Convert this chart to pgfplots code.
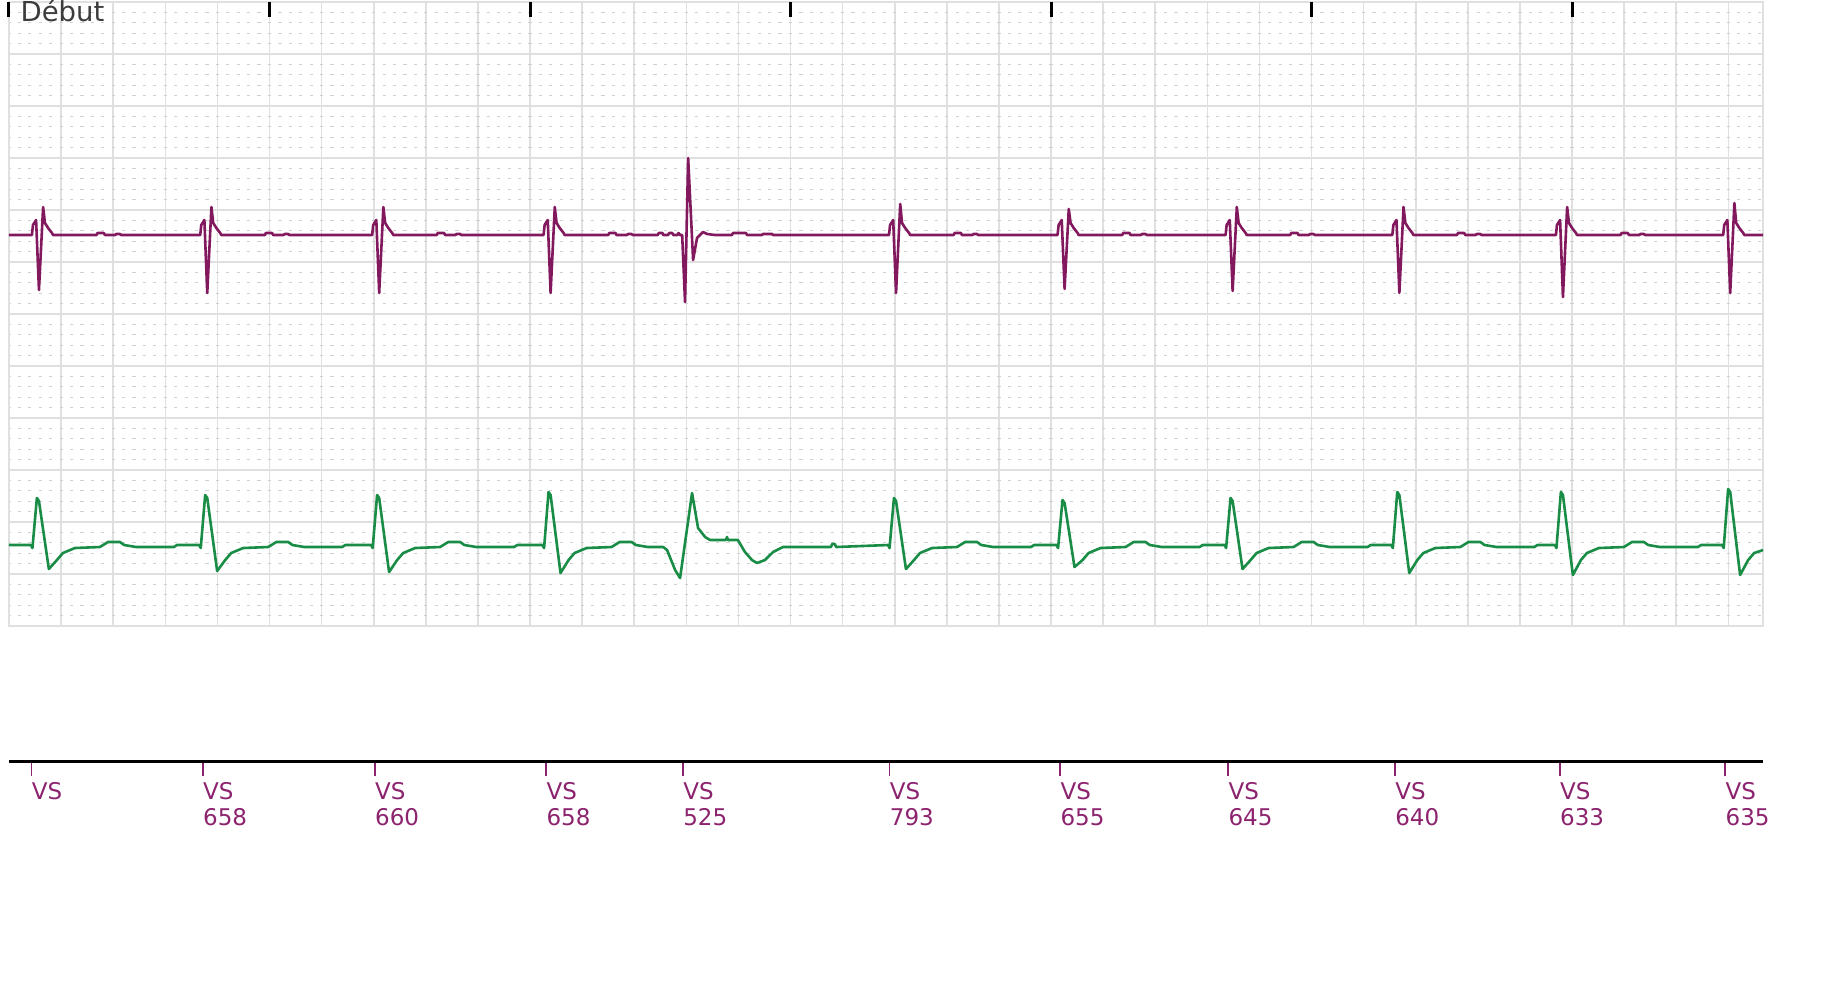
\documentclass[border=0pt]{standalone}
\usepackage{fontspec}
\setmainfont{DejaVu Sans}
\usepackage{pgfplots}
\pgfplotsset{compat=1.18}

\definecolor{ecgpurple}{RGB}{130,25,94}
\definecolor{ecggreen}{RGB}{25,140,70}
\definecolor{vspurple}{RGB}{140,35,110}
\definecolor{gridmajor}{RGB}{224,224,224}
\definecolor{gridminor}{RGB}{208,208,208}

% x in ms from the left edge of the strip, y in pixel rows from the top of the image
\begin{document}
\begin{tikzpicture}
\path[use as bounding box] (0pt,0pt) rectangle (912pt,-503.5pt);

\begin{axis}[
  name=ecg,
  at={(4.5pt,-1pt)}, anchor=north west,
  width=877pt, height=312pt, scale only axis,
  xmin=0, xmax=6733, ymin=2, ymax=626, y dir=reverse,
  axis line style={draw=gridmajor, line width=0.8pt},
  xtick={0,200,...,6600}, xticklabels={},
  ytick={2,54,...,626}, yticklabels={},
  minor y tick num=4,
  major tick length=0pt, minor tick length=0pt,
  xmajorgrids, ymajorgrids, yminorgrids,
  major grid style={draw=gridmajor, line width=0.8pt},
  minor grid style={draw=gridminor, line width=0.5pt, dash pattern=on 1.6pt off 3.61pt, dash phase=0.8pt},
  xtick pos=right,
  extra x ticks={0,1000,2000,3000,4000,5000,6000},
  extra x tick labels={},
  extra x tick style={grid=none, major tick length=7.5pt, tick align=inside,
    tick style={draw=black, line width=1.5pt}},
  clip=false,
]
% oreillette / marqueur (violet)
\addplot[ecgpurple, line width=1.3pt, line join=round] coordinates {
(0,235) (88,235) (92,225) (104,220) (115,290) (131,207) (138,223) (150,228) (165,233) (169,235)
(336,235) (340,233) (364,233) (368,235) (408,235) (412,234) (426,234) (430,235)
(734,235) (738,225) (750,220) (761,293) (777,207) (784,223) (796,228) (811,233) (815,235)
(982,235) (986,233) (1010,233) (1014,235) (1054,235) (1058,234) (1072,234) (1076,235)
(1394,235) (1398,225) (1410,220) (1421,293) (1437,207) (1444,223) (1456,228) (1471,233) (1475,235)
(1642,235) (1646,233) (1670,233) (1674,235) (1714,235) (1718,234) (1732,234) (1736,235)
(2052,235) (2056,225) (2068,220) (2079,293) (2095,207) (2102,223) (2114,228) (2129,233) (2133,235)
(2300,235) (2304,233) (2328,233) (2332,235) (2372,235) (2376,234) (2390,234) (2394,235)
(2490,235) (2494,233) (2508,233) (2512,235) (2530,235) (2534,233) (2546,233) (2550,235)
(2566,235) (2570,233) (2576,235) (2584,235) (2595,302) (2607,158) (2626,260) (2641,238)
(2664,232) (2680,234) (2710,235) (2775,235) (2779,233) (2829,233) (2833,235)
(2890,235) (2894,234) (2929,234) (2933,235)
(3378,235) (3382,225) (3394,220) (3405,293) (3421,204) (3428,223) (3440,228) (3455,233) (3459,235)
(3626,235) (3630,233) (3654,233) (3658,235) (3698,235) (3702,234) (3716,234) (3720,235)
(4025,235) (4029,225) (4041,220) (4052,289) (4068,209) (4075,223) (4087,228) (4102,233) (4106,235)
(4273,235) (4277,233) (4301,233) (4305,235) (4345,235) (4349,234) (4363,234) (4367,235)
(4670,235) (4674,225) (4686,220) (4697,291) (4713,207) (4720,223) (4732,228) (4747,233) (4751,235)
(4918,235) (4922,233) (4946,233) (4950,235) (4990,235) (4994,234) (5008,234) (5012,235)
(5310,235) (5314,225) (5326,220) (5337,293) (5353,207) (5360,223) (5372,228) (5387,233) (5391,235)
(5558,235) (5562,233) (5586,233) (5590,235) (5630,235) (5634,234) (5648,234) (5652,235)
(5938,235) (5942,225) (5954,220) (5965,297) (5981,207) (5988,223) (6000,228) (6015,233) (6019,235)
(6186,235) (6190,233) (6214,233) (6218,235) (6258,235) (6262,234) (6276,234) (6280,235)
(6580,235) (6584,225) (6596,220) (6607,293) (6623,203) (6630,223) (6642,228) (6657,233) (6661,235)
(6733,235)
};
% ventricule (vert)
\addplot[ecggreen, line width=1.3pt, line join=round] coordinates {
(0,545) (84,545) (90,548) (107,498) (115,501) (153,569) (184,560) (207,553) (253,548)
(349,547) (380,542) (426,542) (442,545) (488,547) (633,547) (645,545)
(730,545) (736,548) (753,495) (761,498) (799,571) (830,560) (853,553) (899,548)
(995,547) (1026,542) (1072,542) (1088,545) (1134,547) (1279,547) (1291,545)
(1390,545) (1396,548) (1413,495) (1421,498) (1459,572) (1490,560) (1513,553) (1559,548)
(1655,547) (1686,542) (1732,542) (1748,545) (1794,547) (1939,547) (1951,545)
(2048,545) (2054,548) (2071,492) (2079,495) (2117,573) (2148,560) (2171,553) (2217,548)
(2313,547) (2344,542) (2390,542) (2406,545) (2452,547)
(2511,547) (2526,550) (2557,570) (2576,578) (2622,493) (2645,528) (2672,537) (2691,540)
(2752,540) (2756,537) (2760,540) (2798,540) (2825,552) (2852,560) (2871,563) (2902,560)
(2933,552) (2971,547) (3155,547) (3160,544) (3170,544) (3175,547)
(3374,545) (3380,548) (3397,498) (3405,501) (3443,569) (3474,560) (3497,553) (3543,548)
(3639,547) (3670,542) (3716,542) (3732,545) (3778,547) (3923,547) (3935,545)
(4021,545) (4027,548) (4044,500) (4052,503) (4090,567) (4121,560) (4144,553) (4190,548)
(4286,547) (4317,542) (4363,542) (4379,545) (4425,547) (4570,547) (4582,545)
(4666,545) (4672,548) (4689,498) (4697,501) (4735,569) (4766,560) (4789,553) (4835,548)
(4931,547) (4962,542) (5008,542) (5024,545) (5070,547) (5215,547) (5227,545)
(5306,545) (5312,548) (5329,492) (5337,495) (5375,573) (5406,560) (5429,553) (5475,548)
(5571,547) (5602,542) (5648,542) (5664,545) (5710,547) (5855,547) (5867,545)
(5934,545) (5940,548) (5957,492) (5965,495) (6003,575) (6034,560) (6057,553) (6103,548)
(6199,547) (6230,542) (6276,542) (6292,545) (6338,547) (6483,547) (6495,545)
(6576,545) (6582,548) (6599,489) (6607,492) (6645,575) (6676,560) (6699,553) (6733,550)
};
\end{axis}
\node[anchor=base west, inner sep=0pt, text={rgb,255:red,60;green,60;blue,60},
  font=\fontsize{13.75}{16}\selectfont] at ([xshift=5.6pt,yshift=-9.5pt]ecg.north west) {Début};

% marqueurs VS et intervalles (ms)
\begin{axis}[
  at={(4.5pt,-380.5pt)}, anchor=south west,
  width=877pt, height=5pt, scale only axis,
  xmin=0, xmax=6733, ymin=0, ymax=1,
  axis x line*=bottom, axis y line=none,
  x axis line style={-, draw=black, line width=1.5pt},
  xtick={86,744,1404,2062,2587,3380,4035,4680,5320,5953,6588},
  xticklabels={VS, VS\\658, VS\\660, VS\\658, VS\\525, VS\\793, VS\\655, VS\\645, VS\\640, VS\\633, VS\\635},
  tick align=outside, major tick length=7.5pt,
  major tick style={draw=vspurple, line width=0.9pt},
  xticklabel style={anchor=north west, align=left, text=vspurple, inner sep=0pt,
    yshift=-3pt, font=\fontsize{11.5}{13}\selectfont},
]
\addplot[draw=none] coordinates {(0,0) (6733,1)};
\end{axis}
\end{tikzpicture}
\end{document}
